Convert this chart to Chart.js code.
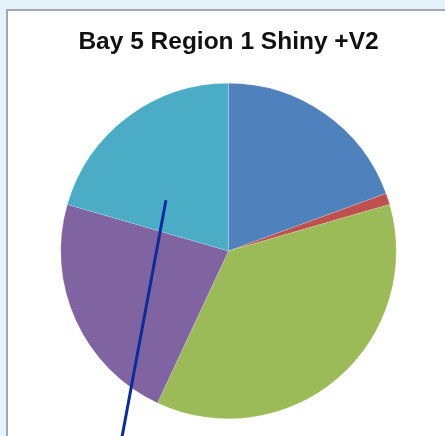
<!DOCTYPE html>
<html>
<head>
<meta charset="utf-8">
<script src="https://cdn.jsdelivr.net/npm/chart.js@4/dist/chart.umd.min.js"></script>
<style>
html,body{margin:0;padding:0;background:#e4f2fc;}
#wrap{position:absolute;left:0;top:0;width:445px;height:436px;}
</style>
</head>
<body>
<div id="wrap"><canvas id="c" width="445" height="436"></canvas></div>
<script>
const chartTitle = "Bay 5 Region 1 Shiny +V2";
const categories = ["1", "2", "3", "4", "5"];
const values = [19.4, 1.1, 36.4, 22.5, 20.5];
const sliceColors = ["#4F81BD", "#C0504D", "#9BBB59", "#8064A2", "#4BACC6"];

const frame = {
  id: "frame",
  beforeDraw(chart) {
    const ctx = chart.ctx;
    ctx.save();
    ctx.fillStyle = "#e4f2fc";
    ctx.fillRect(0, 0, chart.width, chart.height);
    ctx.fillStyle = "#ffffff";
    ctx.fillRect(7, 10, chart.width, chart.height);
    ctx.strokeStyle = "#a8a8a8";
    ctx.lineWidth = 2;
    ctx.beginPath();
    ctx.moveTo(7, chart.height);
    ctx.lineTo(7, 10);
    ctx.lineTo(chart.width, 10);
    ctx.stroke();
    ctx.restore();
  },
  afterDraw(chart) {
    const arc = chart.getDatasetMeta(0).data[4];
    const a = arc.startAngle + 0.31 * (arc.endAngle - arc.startAngle);
    const r = 0.48 * arc.outerRadius;
    const x0 = arc.x + r * Math.cos(a);
    const y0 = arc.y + r * Math.sin(a);
    const dirX = -44, dirY = 235;
    const t = (chart.height - y0) / dirY;
    const ctx = chart.ctx;
    ctx.save();
    ctx.strokeStyle = "#0a2c9c";
    ctx.lineWidth = 3;
    ctx.beginPath();
    ctx.moveTo(x0, y0);
    ctx.lineTo(x0 + dirX * t, chart.height + 2);
    ctx.stroke();
    ctx.restore();
  }
};

new Chart(document.getElementById("c"), {
  type: "pie",
  data: {
    labels: categories,
    datasets: [{
      data: values,
      backgroundColor: sliceColors,
      borderColor: "rgba(255,255,255,0.35)",
      borderWidth: 0.5
    }]
  },
  options: {
    responsive: false,
    animation: false,
    devicePixelRatio: 1,
    layout: { padding: { left: 60, right: 48, top: 0, bottom: 17 } },
    plugins: {
      legend: { display: false },
      tooltip: { enabled: false },
      title: {
        display: true,
        text: chartTitle,
        color: "#111111",
        font: { family: "'Liberation Sans', Arial, sans-serif", size: 24.5, weight: "bold", lineHeight: 1.2 },
        padding: { top: 27.3, bottom: 26.3 }
      }
    }
  },
  plugins: [frame]
});
</script>
</body>
</html>
